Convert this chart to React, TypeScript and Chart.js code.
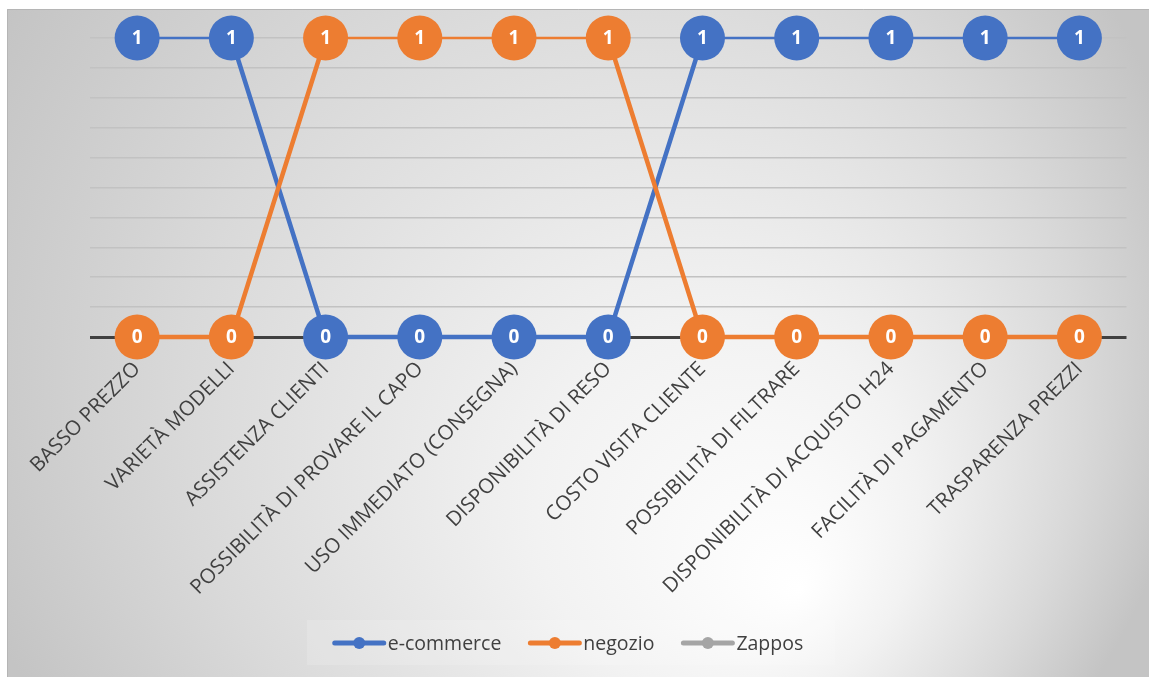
import React, { useEffect, useRef } from "react";
import { Chart, registerables } from "chart.js";

Chart.register(...registerables);

const categories = [
  "BASSO PREZZO",
  "VARIETÀ MODELLI",
  "ASSISTENZA CLIENTI",
  "POSSIBILITÀ DI PROVARE IL CAPO",
  "USO IMMEDIATO (CONSEGNA)",
  "DISPONIBILITÀ DI RESO",
  "COSTO VISITA CLIENTE",
  "POSSIBILITÀ DI FILTRARE",
  "DISPONIBILITÀ DI ACQUISTO H24",
  "FACILITÀ DI PAGAMENTO",
  "TRASPARENZA PREZZI",
];
const ecommerce = [1, 1, 0, 0, 0, 0, 1, 1, 1, 1, 1];
const negozio = [0, 0, 1, 1, 1, 1, 0, 0, 0, 0, 0];
const zappos: (number | null)[] = [null, null, null, null, null, null, null, null, null, null, null];
const seriesNames = ["e-commerce", "negozio", "Zappos"];
const seriesColors = ["#4472C4", "#ED7D31", "#A5A5A5"];

const TEXT = "#404040";
const FONT = "'Open Sans', 'DejaVu Sans', sans-serif";

const bgPlugin = {
  id: "bg",
  beforeDraw(chart: any) {
    const { ctx, width, height } = chart;
    ctx.save();
    const g = ctx.createRadialGradient(793, 581, 0, 553, 321, 640);
    g.addColorStop(0, "#ffffff");
    g.addColorStop(0.3, "#f2f2f2");
    g.addColorStop(0.7, "#d9d9d9");
    g.addColorStop(1, "#c4c4c4");
    ctx.fillStyle = g;
    ctx.fillRect(0, 0, width, height);
    ctx.strokeStyle = "#b5b5b5";
    ctx.lineWidth = 1;
    ctx.beginPath();
    ctx.moveTo(0.5, height);
    ctx.lineTo(0.5, 0.5);
    ctx.lineTo(width, 0.5);
    ctx.stroke();
    ctx.fillStyle = "rgba(255,255,255,0.15)";
    ctx.fillRect(300, 611, 528, 45);
    ctx.restore();
  },
};

const labelsPlugin = {
  id: "pointLabels",
  afterDatasetsDraw(chart: any) {
    const { ctx } = chart;
    ctx.save();
    ctx.fillStyle = "#ffffff";
    ctx.font = `bold 19px ${FONT}`;
    ctx.textAlign = "center";
    ctx.textBaseline = "middle";
    chart.data.datasets.forEach((ds: any, i: number) => {
      const meta = chart.getDatasetMeta(i);
      if (meta.hidden) return;
      meta.data.forEach((el: any, j: number) => {
        const v = ds.data[j];
        if (v === null || v === undefined) return;
        ctx.fillText(String(v), el.x, el.y + 1);
      });
    });
    ctx.restore();
  },
};

const legendPlugin = {
  id: "customLegend",
  afterDraw(chart: any) {
    const { ctx, width } = chart;
    ctx.save();
    ctx.font = `19.5px ${FONT}`;
    ctx.textBaseline = "middle";
    ctx.textAlign = "left";
    const lineLen = 53;
    const gapText = 2;
    const gapItem = 27;
    const widths = seriesNames.map((n) => ctx.measureText(n).width);
    const total =
      widths.reduce((a, b) => a + b, 0) + seriesNames.length * (lineLen + gapText) + gapItem * (seriesNames.length - 1);
    let x = (width - total) / 2 - 10;
    const y = 634;
    seriesNames.forEach((n, i) => {
      ctx.strokeStyle = seriesColors[i];
      ctx.lineWidth = 5;
      ctx.lineCap = "round";
      ctx.beginPath();
      ctx.moveTo(x + 2, y);
      ctx.lineTo(x + lineLen - 2, y);
      ctx.stroke();
      ctx.fillStyle = seriesColors[i];
      ctx.beginPath();
      ctx.arc(x + lineLen / 2, y, 6, 0, Math.PI * 2);
      ctx.fill();
      ctx.fillStyle = TEXT;
      ctx.fillText(n, x + lineLen + gapText, y + 1);
      x += lineLen + gapText + widths[i] + gapItem;
    });
    ctx.restore();
  },
};

function makeDataset(label: string, data: (number | null)[], color: string, order: number) {
  return {
    label,
    data,
    borderColor: color,
    backgroundColor: color,
    borderWidth: 4.5,
    pointRadius: 22.5,
    pointHoverRadius: 22.5,
    pointBorderWidth: 0,
    pointHoverBorderWidth: 0,
    order,
    clip: false,
    segment: {
      borderWidth: (c: any) => (c.p0.parsed.y === 1 && c.p1.parsed.y === 1 ? 2.5 : 4.5),
    },
  };
}

export default function App() {
  const ref = useRef<HTMLCanvasElement | null>(null);
  useEffect(() => {
    if (!ref.current) return;
    const chart = new Chart(ref.current, {
      type: "line",
      data: {
        labels: categories,
        datasets: [
          makeDataset(seriesNames[0], ecommerce, seriesColors[0], 2),
          makeDataset(seriesNames[1], negozio, seriesColors[1], 1),
          makeDataset(seriesNames[2], zappos, seriesColors[2], 0),
        ],
      },
      options: {
        responsive: true,
        maintainAspectRatio: false,
        animation: false,
        events: [],
        layout: { padding: { top: 29, left: 83, right: 18, bottom: 40 } },
        plugins: { legend: { display: false }, tooltip: { enabled: false } },
        scales: {
          x: {
            offset: true,
            grid: { display: false },
            border: { display: false },
            ticks: {
              color: TEXT,
              font: { family: FONT, size: 20.5 },
              maxRotation: 45,
              minRotation: 45,
              autoSkip: false,
              padding: 12,
            },
            afterFit: (s: any) => {
              s.height = 300;
            },
          },
          y: {
            min: 0,
            max: 1,
            ticks: { display: false, stepSize: 0.1 },
            grid: {
              drawTicks: false,
              color: (c: any) => (c.tick && c.tick.value === 0 ? "#404040" : "#c2c2c2"),
              lineWidth: (c: any) => (c.tick && c.tick.value === 0 ? 3 : 1.5),
            },
            border: { display: false },
            afterFit: (s: any) => {
              s.width = 0;
            },
          },
        },
      },
      plugins: [bgPlugin, labelsPlugin, legendPlugin],
    });
    return () => chart.destroy();
  }, []);
  return (
    <div style={{ position: "fixed", left: 7, top: 9, width: 1142, height: 668 }}>
      <canvas ref={ref} />
    </div>
  );
}
